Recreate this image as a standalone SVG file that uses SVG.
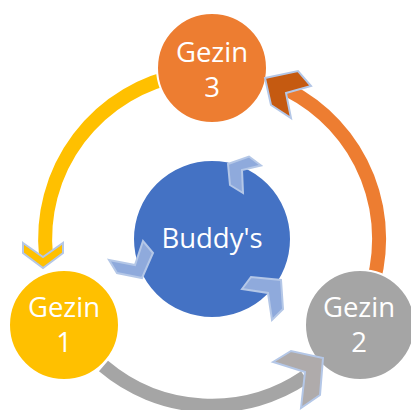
<svg xmlns="http://www.w3.org/2000/svg" width="411" height="410" viewBox="0 0 411 410">
<style>
.arc{fill:none;stroke-width:14}
.node{stroke:#fff;stroke-width:2}
.lbl{font-family:"Open Sans","Noto Sans",sans-serif;font-size:27.5px;fill:#fff;text-anchor:middle}
.head{stroke:#b4c7e7;stroke-width:2;stroke-linejoin:miter}
.inner{fill:#8faadc;stroke:#b4c7e7;stroke-width:2}
</style>
<rect width="411" height="410" fill="#fff"/>
<g id="connectors">
<path class="arc" stroke="#ffc000" d="M183,74.5 A167,167 0 0 0 46,256"/>
<path class="arc" stroke="#ed7d31" d="M369,296 A167,167 0 0 0 288,90"/>
<path class="arc" stroke="#a5a5a5" d="M103.5,366 A167,167 0 0 0 305,377"/>
</g>
<g id="gezin3">
<circle class="node" cx="212" cy="68" r="55" fill="#ed7d31"/>
<text class="lbl" x="212" y="62">Gezin</text>
<text class="lbl" x="212" y="97">3</text>
</g>
<g id="gezin1">
<circle class="node" cx="64" cy="325" r="55" fill="#ffc000"/>
<text class="lbl" x="64" y="317">Gezin</text>
<text class="lbl" x="64" y="352">1</text>
</g>
<g id="gezin2">
<circle class="node" cx="360" cy="325" r="55" fill="#a5a5a5"/>
<text class="lbl" x="359" y="317">Gezin</text>
<text class="lbl" x="359" y="352">2</text>
</g>
<g id="buddys">
<circle class="node" cx="212" cy="239" r="79" fill="#4472c4"/>
<text class="lbl" x="212" y="248">Buddy's</text>
</g>
<g id="arrowheads">
<polygon class="head" fill="#ffc000" points="23,243 43,257 63,243 63,253 43,268 23,253"/>
<polygon class="head" fill="#c55a11" points="265,78 298,71 311,86 286,93 291,118 271,105"/>
<polygon class="head" fill="#afabab" points="273,362 291,351 323,358 320,395 301,408 305,372"/>
<polygon class="inner" points="228,164 249,156.5 261,165.5 242,170 243,193 230,185"/>
<polygon class="inner" points="109,260 135,265 143,241 153,253 142,278 117,273"/>
<polygon class="inner" points="242,289 251,277 281,280 283,309 272,320 268,293"/>
</g>
</svg>
